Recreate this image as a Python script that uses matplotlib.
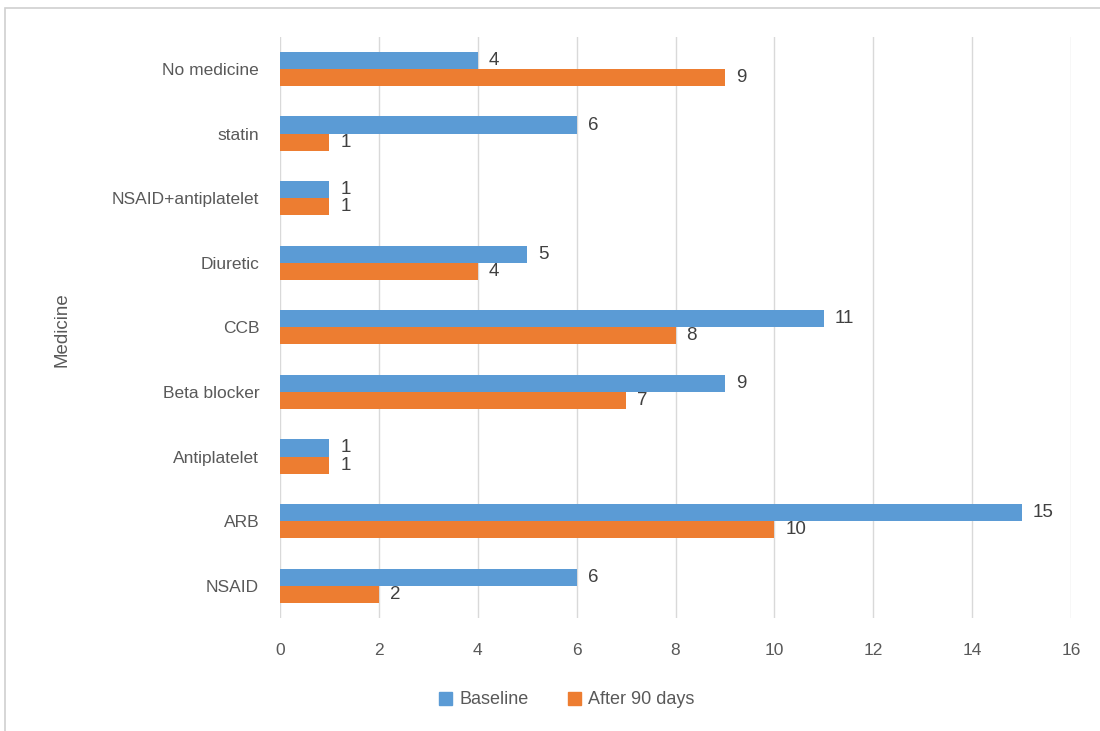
import numpy as np
import matplotlib.pyplot as plt
from matplotlib.patches import Rectangle, Patch

categories = ["No medicine", "statin", "NSAID+antiplatelet", "Diuretic", "CCB",
              "Beta blocker", "Antiplatelet", "ARB", "NSAID"]
baseline = [4, 6, 1, 5, 11, 9, 1, 15, 6]
after_90 = [9, 1, 1, 4, 8, 7, 1, 10, 2]
x_ticks = [0, 2, 4, 6, 8, 10, 12, 14, 16]

BLUE = "#5B9BD5"
ORANGE = "#ED7D31"
TEXT = "#595959"

plt.rcParams["font.family"] = ["Liberation Sans", "DejaVu Sans"]

fig = plt.figure(figsize=(11, 7.31), dpi=100)
ax = fig.add_axes([280 / 1100, 1 - 618 / 731, (1071 - 280) / 1100, (618 - 36.7) / 731])

# outer chart border (partly cropped in the reference)
fig.patches.append(Rectangle((5 / 1100, -0.1), 1.2, 1.1 - 8 / 731, transform=fig.transFigure,
                             fill=False, edgecolor="#D0D0D0", linewidth=1.2))

y = np.arange(len(categories))
h = 0.265
ax.barh(y - h / 2, baseline, height=h, color=BLUE, label="Baseline", zorder=3)
ax.barh(y + h / 2, after_90, height=h, color=ORANGE, label="After 90 days", zorder=3)

for yi, b, a in zip(y, baseline, after_90):
    ax.text(b + 0.22, yi - h / 2, str(b), va="center", ha="left", fontsize=13.5, color="#404040")
    ax.text(a + 0.22, yi + h / 2, str(a), va="center", ha="left", fontsize=13.5, color="#404040")

ax.set_ylim(len(categories) - 0.5, -0.5)
ax.set_xlim(0, 16)
ax.set_xticks(x_ticks)
ax.set_yticks(y)
ax.set_yticklabels(categories)
ax.tick_params(axis="both", length=0, labelsize=12.5, colors=TEXT)
ax.tick_params(axis="x", pad=18)
ax.tick_params(axis="y", pad=15)
ax.grid(axis="x", color="#D9D9D9", linewidth=1, zorder=0)
for s in ax.spines.values():
    s.set_visible(False)

fig.text(62 / 1100, 1 - 330 / 731, "Medicine", rotation=90, ha="center", va="center",
         fontsize=13.5, color=TEXT)

handles = [Patch(color=BLUE, label="Baseline"), Patch(color=ORANGE, label="After 90 days")]
fig.legend(handles=handles, loc="center", bbox_to_anchor=(567 / 1100, 1 - 700 / 731), ncol=2,
           frameon=False, fontsize=13, labelcolor=TEXT, handlelength=0.7, handleheight=0.7,
           handletextpad=0.4, columnspacing=2.2)

fig.savefig("out.png", dpi=100)
